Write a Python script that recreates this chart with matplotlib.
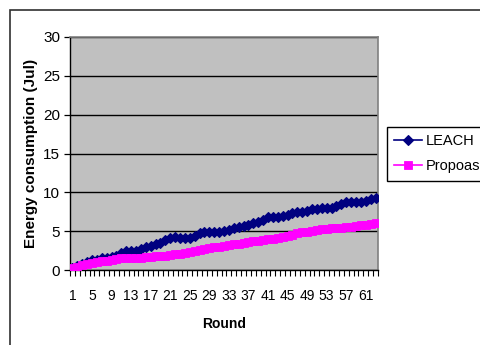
import matplotlib
matplotlib.use("Agg")
import matplotlib.pyplot as plt
from matplotlib.patches import Rectangle

rounds = list(range(1, 64))
leach = [0.3, 0.5, 0.8, 1.0, 1.3, 1.35, 1.5, 1.5, 1.7, 1.8,
         2.2, 2.4, 2.4, 2.5, 2.7, 3.0, 3.1, 3.3, 3.5, 3.8,
         4.1, 4.2, 4.1, 4.15, 4.1, 4.4, 4.8, 4.85, 4.85, 4.85,
         4.85, 5.0, 5.2, 5.45, 5.55, 5.7, 5.8, 6.0, 6.2, 6.5,
         6.8, 6.8, 6.85, 6.9, 7.1, 7.3, 7.45, 7.5, 7.6, 7.8,
         7.9, 8.0, 8.0, 8.0, 8.2, 8.5, 8.7, 8.7, 8.7, 8.8,
         8.9, 9.1, 9.3]
proposed = [0.3, 0.45, 0.6, 0.75, 0.9, 1.0, 1.1, 1.2, 1.3, 1.4,
            1.5, 1.5, 1.5, 1.55, 1.6, 1.65, 1.7, 1.75, 1.8, 1.85,
            1.9, 2.0, 2.1, 2.2, 2.3, 2.45, 2.55, 2.65, 2.8, 2.9,
            3.0, 3.1, 3.2, 3.3, 3.4, 3.5, 3.6, 3.7, 3.75, 3.85,
            3.95, 4.05, 4.15, 4.3, 4.4, 4.5, 4.7, 4.85, 4.95, 5.05,
            5.15, 5.25, 5.3, 5.35, 5.4, 5.45, 5.5, 5.6, 5.7, 5.8,
            5.85, 5.9, 6.0]
series_names = ["LEACH", "Propoased"]
y_ticks = [0, 5, 10, 15, 20, 25, 30]
x_labels = list(range(1, 64, 4))

plt.rcParams["font.family"] = ["Liberation Sans", "DejaVu Sans"]

W, H = 480, 345
fig = plt.figure(figsize=(W / 100, H / 100), dpi=100)
fig.patch.set_facecolor("white")

# outer chart frame (runs off the right and bottom edges)
fig.add_artist(Rectangle((9.5 / W, -0.2), 2.0, 1 - 10 / H + 0.2,
                         transform=fig.transFigure, fill=False,
                         edgecolor="#303030", linewidth=1.2))

ax = fig.add_axes([70 / W, 1 - 270 / H, 308 / W, 233 / H])
ax.set_facecolor("#C0C0C0")

ax.plot(rounds, leach, color="#000080", linewidth=1.2, marker="D",
        markersize=5.5, markeredgewidth=0.8, label=series_names[0], zorder=3)
ax.plot(rounds, proposed, color="#FF00FF", linewidth=1.2, marker="s",
        markersize=6.0, markeredgewidth=0.6, label=series_names[1], zorder=3)

ax.set_xlim(0.5, len(rounds) + 0.5)
ax.set_ylim(0, 30)
ax.set_yticks(y_ticks)
ax.yaxis.grid(True, color="black", linewidth=1.0)
ax.set_axisbelow(True)

ax.set_xticks(x_labels)
ax.set_xticklabels([str(v) for v in x_labels], fontsize=10)
ax.set_xticks([r + 0.5 for r in range(0, len(rounds) + 1)], minor=True)
ax.tick_params(axis="x", which="major", length=0, pad=14)
ax.tick_params(axis="x", which="minor", length=4, width=0.8, direction="out")
ax.tick_params(axis="y", length=4, width=0.9, direction="out", pad=3, labelsize=11)

for side in ("top", "right"):
    ax.spines[side].set_color("#808080")
    ax.spines[side].set_linewidth(1.2)
for side in ("left", "bottom"):
    ax.spines[side].set_color("black")
    ax.spines[side].set_linewidth(1.0)

ax.set_ylabel("Energy consumption (Jul)", fontweight="bold", fontsize=11, labelpad=4)
ax.set_xlabel("Round", fontweight="bold", fontsize=10, labelpad=10)

leg = ax.legend(loc="upper left", bbox_to_anchor=(387 / W, 1 - 127 / H),
                bbox_transform=fig.transFigure, frameon=True, fancybox=False,
                edgecolor="black", framealpha=1, fontsize=10.5,
                handlelength=1.9, handletextpad=0.25, labelspacing=0.75,
                borderpad=0.5, borderaxespad=0)
leg.get_frame().set_linewidth(1.0)

fig.savefig("out.png", dpi=100)
